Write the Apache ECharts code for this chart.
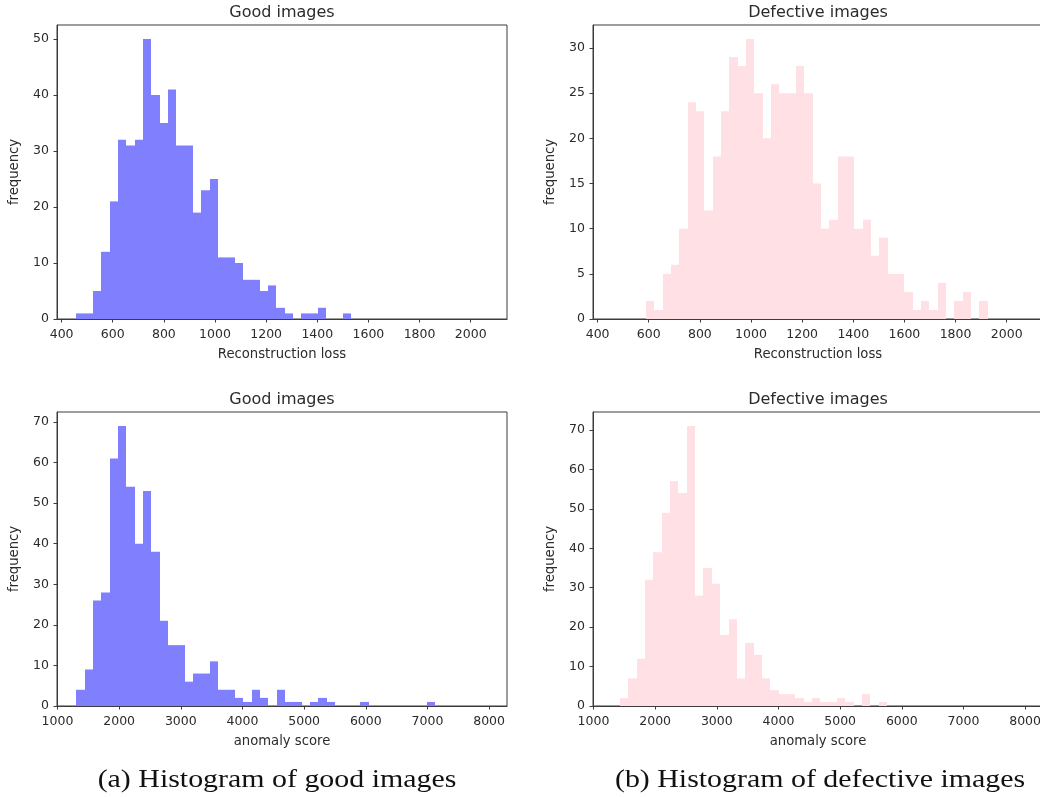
<!DOCTYPE html>
<html>
<head>
<meta charset="utf-8">
<script src="https://cdn.jsdelivr.net/npm/echarts@6/dist/echarts.min.js"></script>
<style>
  html, body { margin: 0; padding: 0; background: #ffffff; }
  #chart { width: 1040px; height: 797px; }
</style>
</head>
<body>
<div id="chart"></div>
<script>
// ---- Reconstruction loss histograms (equal-width bins) ----
const lossBinWidth = 32.6;
const goodLossBinStart = 457.5;
const defectLossBinStart = 589.5;
const goodLossCounts = [1, 1, 5, 12, 21, 32, 31, 32, 50, 40, 35, 41, 31, 31, 19, 23, 25, 11, 11, 10,
  7, 7, 5, 6, 2, 1, 0, 1, 1, 2, 0, 0, 1];
const defectLossCounts = [2, 1, 5, 6, 10, 24, 23, 12, 18, 23, 29, 28, 31, 25, 20, 26, 25, 25, 28, 25,
  15, 10, 11, 18, 18, 10, 11, 7, 9, 5, 5, 3, 1, 2, 1, 4, 0, 2, 3, 0, 2];

// ---- Anomaly score histograms (equal-width bins) ----
const scoreBinWidth = 135.4;
const goodScoreBinStart = 1305;
const defectScoreBinStart = 1430;
const goodScoreCounts = [4, 9, 26, 28, 61, 69, 54, 40, 53, 38, 21, 15, 15, 6, 8, 8, 11, 4, 4, 2,
  1, 4, 2, 0, 4, 1, 1, 0, 1, 2, 1, 0, 0, 0, 1, 0, 0, 0, 0, 0, 0, 0, 1];
const defectScoreCounts = [2, 7, 12, 32, 39, 49, 57, 54, 71, 28, 35, 31, 18, 22, 7, 16, 13, 7, 4, 3,
  3, 2, 1, 2, 1, 1, 2, 1, 0, 3, 0, 1];

// ---- Tick labels ----
const lossTicks = [400, 600, 800, 1000, 1200, 1400, 1600, 1800, 2000];
const scoreTicks = [1000, 2000, 3000, 4000, 5000, 6000, 7000, 8000];
const goodLossFreqTicks = [0, 10, 20, 30, 40, 50];
const defectLossFreqTicks = [0, 5, 10, 15, 20, 25, 30];
const scoreFreqTicks = [0, 10, 20, 30, 40, 50, 60, 70];

// ---- Text ----
const panelTitles = ['Good images', 'Defective images', 'Good images', 'Defective images'];
const xNames = ['Reconstruction loss', 'Reconstruction loss', 'anomaly score', 'anomaly score'];
const captions = ['(a) Histogram of good images', '(b) Histogram of defective images'];

const GOOD_COLOR = '#8080ff';     // blue at half opacity on white
const DEFECT_COLOR = '#ffe0e5';   // pink at half opacity on white
const INK = '#2b2b2b';
const SPINE = '#3c3c3c';
const SANS = 'DejaVu Sans';

function toBins(start, width, counts) {
  return counts.map((c, i) => [start + i * width, start + (i + 1) * width, c]);
}

const grids = [
  { left: 57, top: 25, width: 450, height: 294 },
  { left: 593, top: 25, width: 450, height: 294 },
  { left: 57, top: 412, width: 450, height: 294 },
  { left: 593, top: 412, width: 450, height: 294 }
].map(g => Object.assign({
  show: true, borderColor: SPINE, borderWidth: 1,
  backgroundColor: 'transparent', containLabel: false, outerBoundsMode: 'none'
}, g));

const plainNumber = v => String(v);

function xAxisFor(gridIndex, min, max, ticks, name) {
  return {
    type: 'value', gridIndex, min, max,
    name, nameLocation: 'middle', nameGap: 29,
    nameTextStyle: { color: INK, fontFamily: SANS, fontSize: 13.2 },
    axisLine: { show: true, onZero: false, lineStyle: { color: SPINE, width: 1 } },
    axisTick: { show: true, inside: false, length: 3.5, customValues: ticks,
      lineStyle: { color: SPINE, width: 1 } },
    axisLabel: { show: true, customValues: ticks, margin: 9, color: INK,
      fontFamily: SANS, fontSize: 12.5, formatter: plainNumber },
    splitLine: { show: false }
  };
}

function yAxisFor(gridIndex, max, ticks) {
  return {
    type: 'value', gridIndex, min: 0, max,
    name: 'frequency', nameLocation: 'middle', nameGap: 36,
    nameTextStyle: { color: INK, fontFamily: SANS, fontSize: 13.2 },
    axisLine: { show: true, onZero: false, lineStyle: { color: SPINE, width: 1 } },
    axisTick: { show: true, inside: false, length: 3.5, customValues: ticks,
      lineStyle: { color: SPINE, width: 1 } },
    axisLabel: { show: true, customValues: ticks, margin: 8, color: INK,
      fontFamily: SANS, fontSize: 12.5, formatter: plainNumber },
    splitLine: { show: false }
  };
}

function histSeries(index, bins, color) {
  return {
    type: 'custom',
    xAxisIndex: index, yAxisIndex: index,
    clip: true,
    encode: { x: [0, 1], y: 2 },
    data: bins,
    renderItem: function (params, api) {
      const lo = api.coord([api.value(0), 0]);
      const hi = api.coord([api.value(1), api.value(2)]);
      // snap bin edges to whole pixels so neighbouring bars meet without seams
      const x0 = Math.round(lo[0]);
      const x1 = Math.round(hi[0]);
      return {
        type: 'rect',
        shape: { x: x0, y: hi[1], width: x1 - x0, height: lo[1] - hi[1] },
        style: { fill: color }
      };
    }
  };
}

const titleGraphics = grids.map((g, i) => ({
  type: 'text',
  x: g.left + g.width / 2,
  y: g.top - 12,
  style: {
    text: panelTitles[i], fill: INK, font: '16px "DejaVu Sans"',
    textAlign: 'center', textVerticalAlign: 'middle'
  }
}));

const captionGraphics = captions.map((t, i) => ({
  type: 'text',
  x: i === 0 ? 277 : 820,
  y: 780,
  scaleX: 1.15,
  style: {
    text: t, fill: '#111111', font: '26px "Liberation Serif"',
    textAlign: 'center', textVerticalAlign: 'middle'
  }
}));

const option = {
  backgroundColor: '#ffffff',
  animation: false,
  grid: grids,
  xAxis: [
    xAxisFor(0, 382, 2142, lossTicks, xNames[0]),
    xAxisFor(1, 382, 2142, lossTicks, xNames[1]),
    xAxisFor(2, 992, 8290, scoreTicks, xNames[2]),
    xAxisFor(3, 992, 8290, scoreTicks, xNames[3])
  ],
  yAxis: [
    yAxisFor(0, 52.5, goodLossFreqTicks),
    yAxisFor(1, 32.55, defectLossFreqTicks),
    yAxisFor(2, 72.45, scoreFreqTicks),
    yAxisFor(3, 74.55, scoreFreqTicks)
  ],
  series: [
    histSeries(0, toBins(goodLossBinStart, lossBinWidth, goodLossCounts), GOOD_COLOR),
    histSeries(1, toBins(defectLossBinStart, lossBinWidth, defectLossCounts), DEFECT_COLOR),
    histSeries(2, toBins(goodScoreBinStart, scoreBinWidth, goodScoreCounts), GOOD_COLOR),
    histSeries(3, toBins(defectScoreBinStart, scoreBinWidth, defectScoreCounts), DEFECT_COLOR)
  ],
  graphic: titleGraphics.concat(captionGraphics)
};

const chart = echarts.init(document.getElementById('chart'), null, { renderer: 'canvas' });
chart.setOption(option);
</script>
</body>
</html>
